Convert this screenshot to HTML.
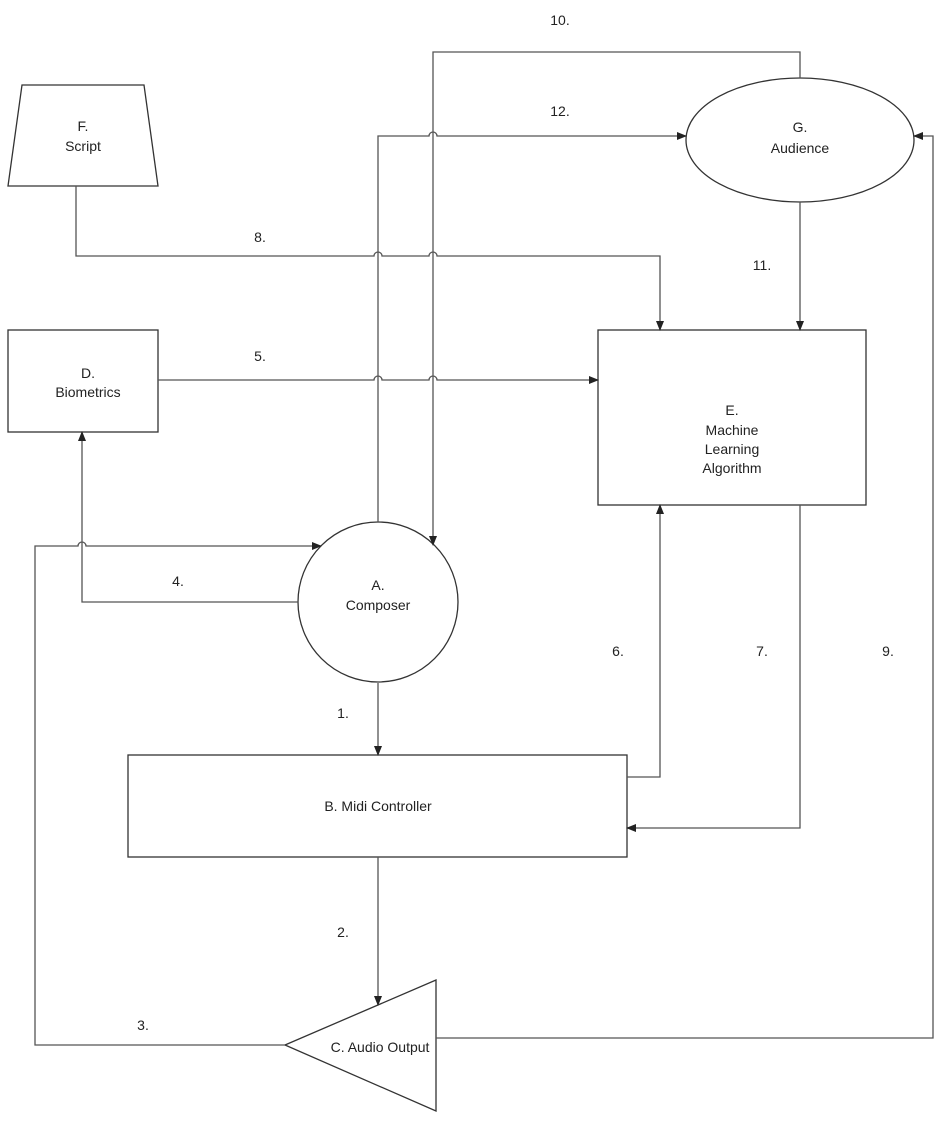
<!DOCTYPE html>
<html><head><meta charset="utf-8"><style>
html,body{margin:0;padding:0;background:#fff;}
svg text{font-family:"Liberation Sans",sans-serif;font-size:14px;fill:#222;text-anchor:middle;}
</style></head><body>
<svg width="940" height="1119" viewBox="0 0 940 1119" xmlns="http://www.w3.org/2000/svg">
<defs><marker id="a" markerWidth="10" markerHeight="8" refX="9" refY="4" orient="auto" markerUnits="userSpaceOnUse"><path d="M0,0 L10,4 L0,8 z" fill="#222"/></marker></defs>
<g fill="none" stroke="#555" stroke-width="1.3">
<polygon points="22,85 144,85 158,186 8,186" stroke="#333"/>
<ellipse cx="800" cy="140" rx="114" ry="62" stroke="#333"/>
<rect x="598" y="330" width="268" height="175" stroke="#333"/>
<rect x="8" y="330" width="150" height="102" stroke="#333"/>
<circle cx="378" cy="602" r="80" stroke="#333"/>
<rect x="128" y="755" width="499" height="102" stroke="#333"/>
<polygon points="285,1045 436,980 436,1111" stroke="#333"/>
<path d="M76,186 V256 H374 a4,4 0 0 1 8,0 H429 a4,4 0 0 1 8,0 H660 V330" marker-end="url(#a)"/>
<path d="M800,78 V52 H433 V545" marker-end="url(#a)"/>
<path d="M378,522 V136 H429 a4,4 0 0 1 8,0 H686" marker-end="url(#a)"/>
<path d="M800,202 V330" marker-end="url(#a)"/>
<path d="M158,380 H374 a4,4 0 0 1 8,0 H429 a4,4 0 0 1 8,0 H598" marker-end="url(#a)"/>
<path d="M298,602 H82 V432" marker-end="url(#a)"/>
<path d="M285,1045 H35 V546 H78 a4,4 0 0 1 8,0 H321" marker-end="url(#a)"/>
<path d="M378,683 V755" marker-end="url(#a)"/>
<path d="M627,777 H660 V505" marker-end="url(#a)"/>
<path d="M800,505 V828 H627" marker-end="url(#a)"/>
<path d="M378,857 V1005" marker-end="url(#a)"/>
<path d="M436,1038 H933 V136 H914" marker-end="url(#a)"/>
</g>
<text x="83" y="131">F.</text><text x="83" y="151">Script</text>
<text x="800" y="132">G.</text><text x="800" y="153">Audience</text>
<text x="732" y="415">E.</text><text x="732" y="435">Machine</text><text x="732" y="454">Learning</text><text x="732" y="473">Algorithm</text>
<text x="88" y="378">D.</text><text x="88" y="397">Biometrics</text>
<text x="378" y="590">A.</text><text x="378" y="610">Composer</text>
<text x="378" y="811">B. Midi Controller</text>
<text x="380" y="1052">C. Audio Output</text>
<text x="560" y="25">10.</text>
<text x="560" y="116">12.</text>
<text x="260" y="242">8.</text>
<text x="762" y="270">11.</text>
<text x="260" y="361">5.</text>
<text x="178" y="586">4.</text>
<text x="618" y="656">6.</text>
<text x="762" y="656">7.</text>
<text x="888" y="656">9.</text>
<text x="343" y="718">1.</text>
<text x="343" y="937">2.</text>
<text x="143" y="1030">3.</text>
</svg>
</body></html>
